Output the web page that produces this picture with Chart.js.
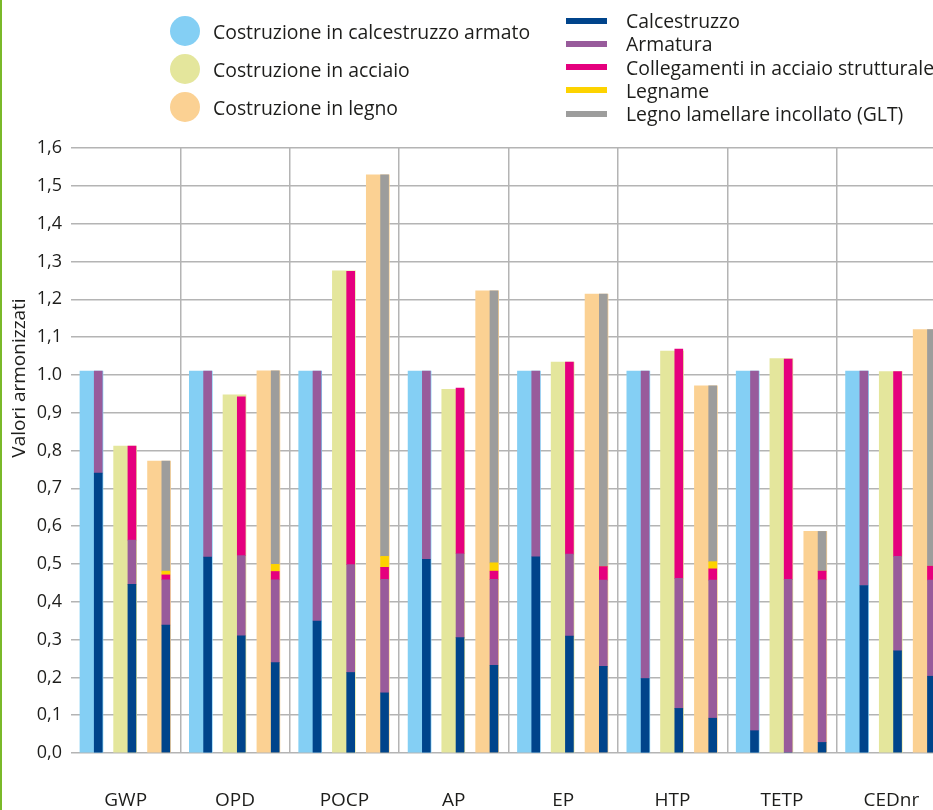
<!DOCTYPE html>
<html>
<head>
<meta charset="utf-8">
<script src="https://cdn.jsdelivr.net/npm/chart.js@4/dist/chart.umd.min.js"></script>
<style>
  html, body { margin: 0; padding: 0; background: #fff; overflow: hidden; }
  #wrap { position: relative; width: 960px; height: 810px; }
  #edge { position: absolute; left: 0; top: 0; width: 2px; height: 810px; background: #7ab929; z-index: 3; }
  .row { position: absolute; display: flex; align-items: center; height: 30px;
         font-family: "Open Sans", sans-serif; color: #1d1d1b; white-space: nowrap; z-index: 2; }
  .dot { width: 30px; height: 30px; border-radius: 50%; margin-right: 13px; }
  .bar { width: 41px; height: 6px; margin-right: 19px; }
</style>
</head>
<body>
<div id="wrap">
  <div id="edge"></div>
  <div id="legend"></div>
  <canvas id="chart"></canvas>
</div>
<script>
const categories = ["GWP", "OPD", "POCP", "AP", "EP", "HTP", "TETP", "CEDnr"];
const yTickLabels = ["0,0", "0,1", "0,2", "0,3", "0,4", "0,5", "0,6", "0,7", "0,8", "0,9",
                     "1.0", "1,1", "1,2", "1,3", "1,4", "1,5", "1,6"];
const yTitle = "Valori armonizzati";

const buildingLabels = ["Costruzione in calcestruzzo armato", "Costruzione in acciaio", "Costruzione in legno"];
const componentLabels = ["Calcestruzzo", "Armatura", "Collegamenti in acciaio strutturale",
                         "Legname", "Legno lamellare incollato (GLT)"];

// totale per tipo di costruzione
const totaleCalcestruzzoArmato = [1.01, 1.01, 1.01, 1.01, 1.01, 1.01, 1.01, 1.01];
const totaleAcciaio = [0.812, 0.947, 1.275, 0.962, 1.034, 1.063, 1.043, 1.009];
const totaleLegno = [0.772, 1.011, 1.529, 1.222, 1.214, 0.971, 0.586, 1.12];

// costruzione in calcestruzzo armato
const caCalcestruzzo = [0.74, 0.518, 0.349, 0.512, 0.519, 0.197, 0.059, 0.443];
const caArmatura = [0.27, 0.492, 0.661, 0.498, 0.491, 0.813, 0.951, 0.567];

// costruzione in acciaio
const acCalcestruzzo = [0.446, 0.31, 0.213, 0.305, 0.309, 0.118, 0.0, 0.27];
const acArmatura = [0.117, 0.212, 0.285, 0.222, 0.217, 0.344, 0.459, 0.25];
const acCollegamenti = [0.249, 0.42, 0.776, 0.438, 0.508, 0.606, 0.583, 0.489];

// costruzione in legno
const leCalcestruzzo = [0.338, 0.239, 0.159, 0.232, 0.229, 0.092, 0.028, 0.203];
const leArmatura = [0.12, 0.219, 0.3, 0.227, 0.228, 0.365, 0.43, 0.254];
const leCollegamenti = [0.013, 0.022, 0.032, 0.022, 0.036, 0.03, 0.023, 0.037];
const leLegname = [0.01, 0.019, 0.029, 0.022, 0.0, 0.019, 0.0, 0.0];
const leGLT = [0.291, 0.512, 1.009, 0.719, 0.721, 0.465, 0.105, 0.626];

const buildingColors = ["#84cff4", "#e4e69c", "#fbd193"];
const componentColors = ["#00448b", "#985b9b", "#e5007e", "#fdd300", "#9d9d9c"];
const textColor = "#1d1d1b";
const gridColor = "#b4b4b4";
const font = "'Open Sans', sans-serif";

// where each building group sits inside its category, in category units
const groupOffset = [-0.313, -0.005, 0.305];
const partOffset = 0.062;

const totals = [totaleCalcestruzzoArmato, totaleAcciaio, totaleLegno];
const parts = [
    [caCalcestruzzo, caArmatura, null, null, null],
    [acCalcestruzzo, acArmatura, acCollegamenti, null, null],
    [leCalcestruzzo, leArmatura, leCollegamenti, leLegname, leGLT],
];

const datasets = [];
componentLabels.forEach((label, c) => {
    const data = [];
    categories.forEach((cat, i) => {
        parts.forEach((set, b) => {
            if (set[c]) data.push({ x: i + 0.5 + groupOffset[b] + partOffset, y: set[c][i] });
        });
    });
    datasets.push({
        label: label,
        data: data,
        backgroundColor: componentColors[c],
        barThickness: 8,
        stack: "parti",
        order: 1,
        xAxisID: "xb",
    });
});
buildingLabels.forEach((label, b) => {
    datasets.push({
        label: label,
        data: totals[b].map((v, i) => ({ x: i + 0.5 + groupOffset[b], y: v })),
        backgroundColor: buildingColors[b],
        barThickness: 23,
        stack: "totale" + b,
        order: 2,
        xAxisID: "xb",
    });
});

// html legend, two columns
const legend = document.getElementById("legend");
buildingLabels.forEach((label, b) => {
    const row = document.createElement("div");
    row.className = "row";
    row.style.left = "170px";
    row.style.top = (16 + b * 38) + "px";
    row.style.fontSize = "19.4px";
    row.innerHTML = `<span class="dot" style="background:${buildingColors[b]}"></span><span>${label}</span>`;
    legend.appendChild(row);
});
componentLabels.forEach((label, c) => {
    const row = document.createElement("div");
    row.className = "row";
    row.style.left = "566px";
    row.style.top = (5.5 + c * 23.3) + "px";
    row.style.fontSize = "19.4px";
    row.innerHTML = `<span class="bar" style="background:${componentColors[c]}"></span><span>${label}</span>`;
    legend.appendChild(row);
});

const yTitlePlugin = {
    id: "yTitle",
    afterDraw(chart) {
        const { ctx, chartArea } = chart;
        ctx.save();
        ctx.translate(20, chartArea.top + 230);
        ctx.rotate(-Math.PI / 2);
        ctx.font = "19px " + font;
        ctx.fillStyle = textColor;
        ctx.textAlign = "center";
        ctx.textBaseline = "middle";
        ctx.fillText(yTitle, 0, 0);
        ctx.restore();
    },
};

const ctx = document.getElementById("chart").getContext("2d");
new Chart(ctx, {
    type: "bar",
    data: { labels: categories, datasets: datasets },
    options: {
        responsive: true,
        maintainAspectRatio: false,
        animation: false,
        grouped: false,
        layout: { padding: { top: 148, right: 14, bottom: 0, left: 0 } },
        scales: {
            xb: {
                type: "linear",
                axis: "x",
                display: false,
                offset: false,
                min: 0,
                max: 8,
                grid: { offset: false },
            },
            x: {
                type: "category",
                labels: categories,
                offset: true,
                grid: {
                    offset: true,
                    drawTicks: false,
                    lineWidth: 1.5,
                    color: (c) => (c.index === 0 ? "rgba(0,0,0,0)" : gridColor),
                },
                border: { display: false },
                ticks: { padding: 36, color: textColor, font: { size: 19, family: font } },
                afterFit: (s) => { s.height = 57; },
            },
            y: {
                stacked: true,
                min: 0,
                max: 1.6,
                grid: { drawTicks: false, lineWidth: 1.5, color: gridColor },
                border: { display: false },
                ticks: {
                    stepSize: 0.1,
                    autoSkip: false,
                    padding: 9,
                    color: textColor,
                    font: { size: 18, family: font },
                    callback: (v, i) => yTickLabels[i],
                },
                afterFit: (s) => { s.width = 71; },
            },
        },
        plugins: {
            legend: { display: false },
            tooltip: { enabled: false },
        },
    },
    plugins: [yTitlePlugin],
});
</script>
</body>
</html>
